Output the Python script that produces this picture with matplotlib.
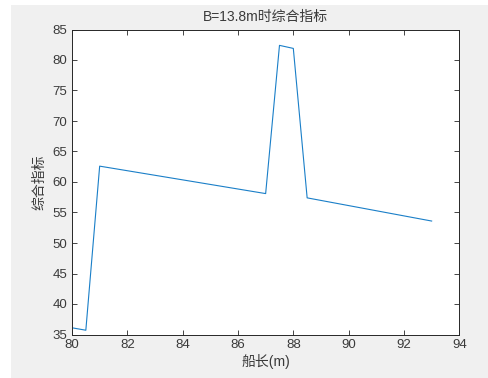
import matplotlib
matplotlib.use('Agg')
import matplotlib.pyplot as plt
from matplotlib.patches import Rectangle

plt.rcParams['font.family'] = ['Liberation Sans', 'Noto Sans CJK SC', 'DejaVu Sans']

# Data
ship_length = [80, 80.5, 81, 87, 87.5, 88, 88.5, 93]
score = [36.1, 35.7, 62.6, 58.1, 82.4, 81.9, 57.4, 53.6]

x_ticks = [80, 82, 84, 86, 88, 90, 92, 94]
y_ticks = [35, 40, 45, 50, 55, 60, 65, 70, 75, 80, 85]

fig = plt.figure(figsize=(4.89, 3.78), dpi=100, facecolor='white')
# grey figure panel like MATLAB, leaving a thin white margin top/left
fig.add_artist(Rectangle((11 / 489, 0), 1 - 11 / 489, 1 - 5 / 378,
                         transform=fig.transFigure, facecolor='#f0f0f0',
                         edgecolor='none', zorder=-10))

ax = fig.add_axes([72 / 489, (378 - 334.5) / 378, (459.3 - 72) / 489, (334.5 - 29.5) / 378])
ax.set_zorder(1)
ax.plot(ship_length, score, color='#1a7fc8', linewidth=0.8)

ax.set_xlim(80, 94)
ax.set_ylim(35, 85)
ax.set_xticks(x_ticks)
ax.set_yticks(y_ticks)
ax.tick_params(direction='in', top=True, right=True, length=3.5, width=0.6,
               labelsize=9.5, colors='#262626', labelcolor='#3a3a3a')
for s in ax.spines.values():
    s.set_linewidth(0.7)
    s.set_color('#262626')

ax.set_title('B=13.8m时综合指标', fontsize=10, color='#3a3a3a', pad=6)
ax.set_xlabel('船长(m)', fontsize=10, color='#3a3a3a', labelpad=2)
ax.set_ylabel('综合指标', fontsize=10, color='#3a3a3a', labelpad=4)

fig.savefig('out.png', dpi=100, facecolor=fig.get_facecolor())
